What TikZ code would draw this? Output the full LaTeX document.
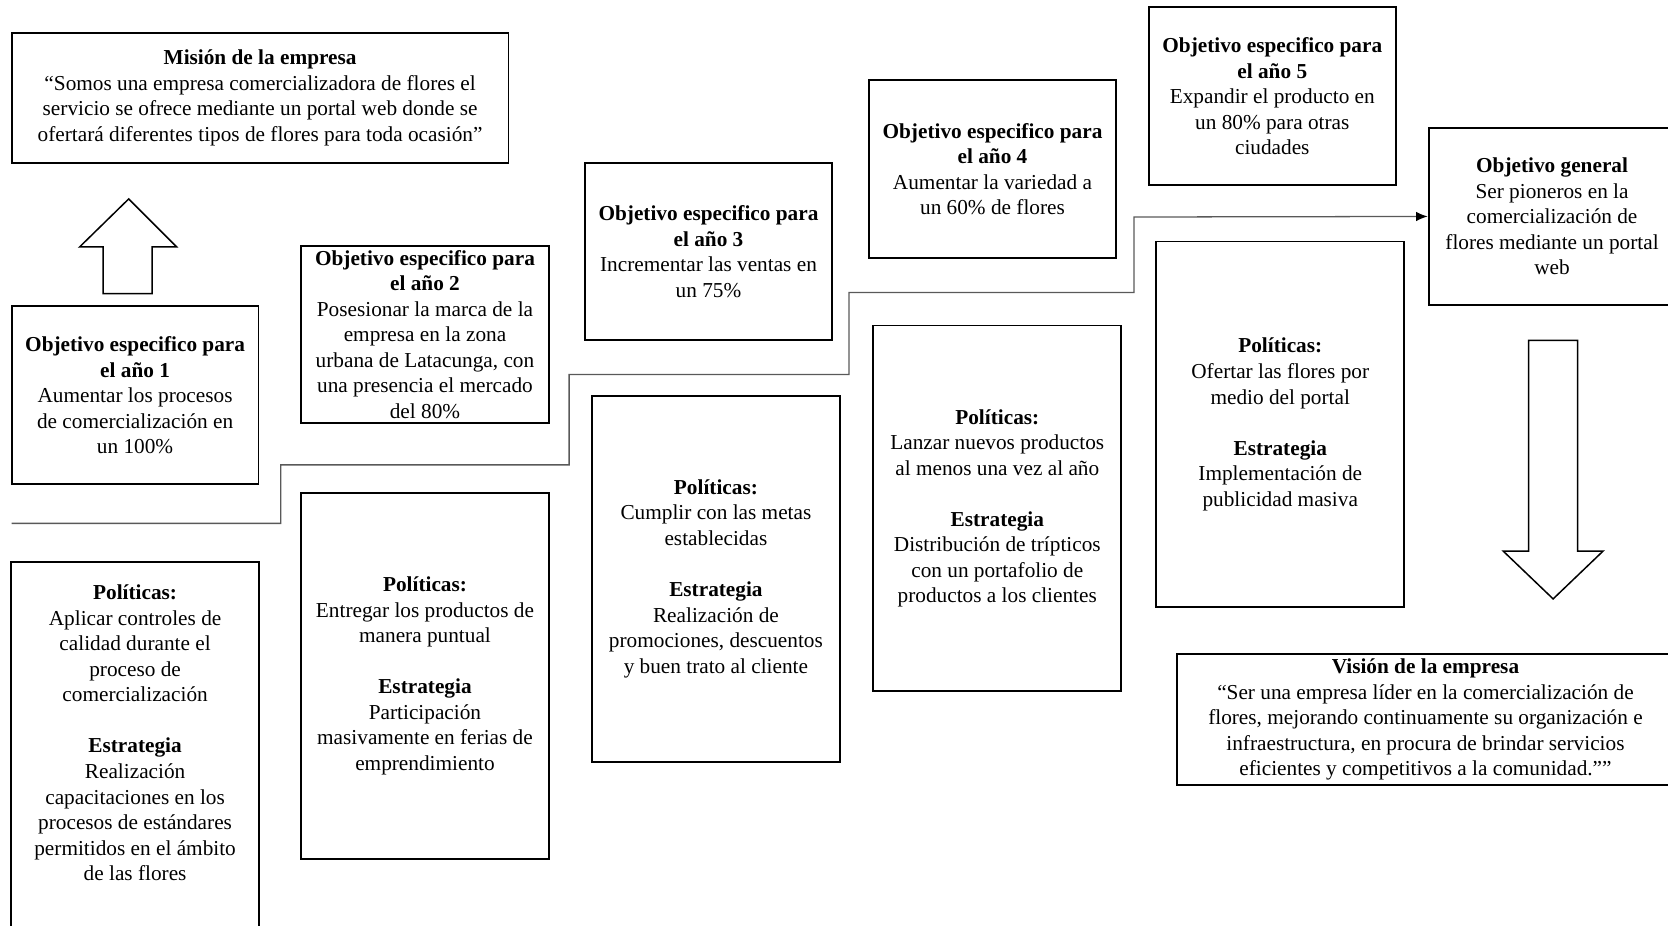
\documentclass[tikz,border=0pt]{standalone}
\usepackage{fontspec}
\setmainfont{Liberation Serif}
\usetikzlibrary{arrows.meta}

\begin{document}
\begin{tikzpicture}[x=0.5pt,y=-0.5pt,>={Latex[black,length=5.5pt,width=4.5pt]},
  caja/.style={draw,line width=0.9pt,align=center,inner sep=2pt,font=\fontsize{10}{12}\selectfont},
  objetivo/.style={caja,minimum width=116pt,minimum height=83.5pt},
  politica/.style={caja,minimum width=116.5pt,minimum height=172pt},
  enunciado/.style={caja,minimum width=233.5pt,minimum height=61pt},
  flecha/.style={draw,line width=0.7pt,fill=white},
  escalera/.style={draw=black!65,line width=0.6pt}]
\useasboundingbox (0,0) rectangle (1568,870);

\node[enunciado] (mision) at (244.5,92) {\textbf{Misión de la empresa}\\“Somos una empresa comercializadora de flores el\\servicio se ofrece mediante un portal web donde se\\ofertará diferentes tipos de flores para toda ocasión”};
\node[enunciado,minimum width=234pt,minimum height=61.5pt] (vision) at (1340,676.5) {\textbf{Visión de la empresa}\\“Ser una empresa líder en la comercialización de\\flores, mejorando continuamente su organización e\\infraestructura, en procura de brindar servicios\\eficientes y competitivos a la comunidad.””};

\node[objetivo] (obj1) at (127,371.5) {\textbf{Objetivo especifico para}\\\textbf{el año 1}\\Aumentar los procesos\\de comercialización en\\un 100\%};
\node[objetivo,minimum width=116.5pt,inner ysep=0pt] (obj2) at (399.5,314.5) {\textbf{Objetivo especifico para}\\\textbf{el año 2}\\Posesionar la marca de la\\empresa en la zona\\urbana de Latacunga, con\\una presencia el mercado\\del 80\%};
\node[objetivo] (obj3) at (666,236.5) {\textbf{Objetivo especifico para}\\\textbf{el año 3}\\Incrementar las ventas en\\un 75\%};
\node[objetivo] (obj4) at (933,159) {\textbf{Objetivo especifico para}\\\textbf{el año 4}\\Aumentar la variedad a\\un 60\% de flores};
\node[objetivo] (obj5) at (1196,90.5) {\textbf{Objetivo especifico para}\\\textbf{el año 5}\\Expandir el producto en\\un 80\% para otras\\ciudades};
\node[objetivo] (ogral) at (1459,203.5) {\textbf{Objetivo general}\\Ser pioneros en la\\comercialización de\\flores mediante un portal\\web};

\node[politica,anchor=north,minimum height=0pt,inner ysep=11pt] (pol1) at (127,527) {\textbf{Políticas:}\\Aplicar controles de\\calidad durante el\\proceso de\\comercialización\\[12pt]\textbf{Estrategia}\\Realización\\capacitaciones en los\\procesos de estándares\\permitidos en el ámbito\\de las flores\\[20pt]\mbox{}};
\node[politica] (pol2) at (399.5,635.5) {\textbf{Políticas:}\\Entregar los productos de\\manera puntual\\[12pt]\textbf{Estrategia}\\Participación\\masivamente en ferias de\\emprendimiento};
\node[politica] (pol3) at (673,544) {\textbf{Políticas:}\\Cumplir con las metas\\establecidas\\[12pt]\textbf{Estrategia}\\Realización de\\promociones, descuentos\\y buen trato al cliente};
\node[politica] (pol4) at (937.5,478) {\textbf{Políticas:}\\Lanzar nuevos productos\\al menos una vez al año\\[12pt]\textbf{Estrategia}\\Distribución de trípticos\\con un portafolio de\\productos a los clientes};
\node[politica] (pol5) at (1203.5,399) {\textbf{Políticas:}\\Ofertar las flores por\\medio del portal\\[12pt]\textbf{Estrategia}\\Implementación de\\publicidad masiva};

\draw[flecha] (121,187) -- (166,232) -- (143,232) -- (143,276) -- (97,276) -- (97,232) -- (75,232) -- cycle;
\draw[flecha] (1460,563) -- (1507,518) -- (1483,518) -- (1483,320) -- (1437,320) -- (1437,518) -- (1413,518) -- cycle;

\coordinate (inicio) at (11,492);
\draw[escalera,->] (inicio) -| (264,437) -| (535,352) -| (798,275) -| (1066,204) -- (ogral.west);
    %
\end{tikzpicture}
\end{document}
